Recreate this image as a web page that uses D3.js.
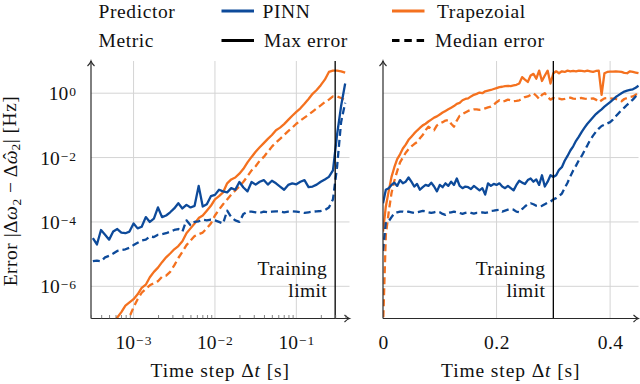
<!DOCTYPE html>
<html><head><meta charset="utf-8">
<script src="https://cdn.jsdelivr.net/npm/d3@7"></script>
<style>
body{margin:0;background:#fff}
svg{display:block}
svg text{font-family:"Liberation Serif","Times New Roman",serif !important;fill:#111}
</style>
</head><body>
<svg id="c" width="640" height="384"></svg>
<script>
// ---------- DATA ----------
// Left panel: time steps (s), log-spaced
const dtLeft = [3.162e-4,3.548e-4,3.981e-4,4.467e-4,5.012e-4,5.623e-4,6.310e-4,7.079e-4,7.943e-4,8.913e-4,
 1.000e-3,1.122e-3,1.259e-3,1.413e-3,1.585e-3,1.778e-3,1.995e-3,2.239e-3,2.512e-3,2.818e-3,
 3.162e-3,3.548e-3,3.981e-3,4.467e-3,5.012e-3,5.623e-3,6.310e-3,7.079e-3,7.943e-3,8.913e-3,
 1.000e-2,1.122e-2,1.259e-2,1.413e-2,1.585e-2,1.778e-2,1.995e-2,2.239e-2,2.512e-2,2.818e-2,
 3.162e-2,3.548e-2,3.981e-2,4.467e-2,5.012e-2,5.623e-2,6.310e-2,7.079e-2,7.943e-2,8.913e-2,
 0.1000,0.1122,0.1259,0.1413,0.1585,0.1778,0.1995,0.2239,0.2512,0.2818,
 0.3162,0.3548,0.3981];
// log10 of error [Hz]
const pinnMaxLeft = [-4.5,-4.7,-4.25,-4.4,-4.55,-4.3,-4.22,-4.33,-4.35,-4.3,
 -4.05,-4.2,-4.15,-3.85,-4.0,-3.9,-3.55,-3.85,-3.8,-3.7,
 -3.58,-3.42,-3.58,-3.47,-3.55,-3.5,-2.88,-3.52,-3.45,-3.2,
 -3.16,-3.0,-3.05,-3.08,-2.95,-3.0,-2.76,-2.93,-3.05,-2.76,
 -2.84,-2.75,-2.7,-2.84,-2.72,-2.8,-2.9,-3.0,-2.85,-2.8,
 -2.83,-2.75,-2.7,-2.92,-2.9,-2.84,-2.75,-2.68,-2.6,-2.4,
 -1.3,-0.4,0.3];
const pinnMedLeft = [-5.22,-5.2,-5.22,-5.1,-5.05,-4.98,-4.9,-4.87,-4.85,-4.8,
 -4.72,-4.65,-4.58,-4.55,-4.45,-4.47,-4.4,-4.38,-4.35,-4.3,
 -4.25,-4.22,-4.3,-3.95,-4.1,-4.0,-3.98,-3.93,-3.95,-3.93,
 -3.95,-4.0,-4.05,-3.65,-3.85,-3.95,-4.0,-3.75,-3.68,-3.68,
 -3.7,-3.72,-3.68,-3.7,-3.68,-3.67,-3.68,-3.7,-3.68,-3.67,
 -3.68,-3.7,-3.72,-3.7,-3.68,-3.67,-3.66,-3.63,-3.55,-3.3,
 -2.3,-0.9,-0.3];
const trapMaxLeft = [null,null,null,null,null,-7.15,-6.97,-6.8,-6.6,-6.5,
 -6.4,-6.25,-6.05,-5.95,-5.72,-5.55,-5.42,-5.25,-5.1,-4.98,
 -4.85,-4.75,-4.6,-4.35,-4.2,-4.05,-3.88,-3.8,-3.65,-3.5,
 -3.3,-3.2,-3.08,-2.8,-2.68,-2.62,-2.5,-2.35,-2.15,-1.98,
 -1.82,-1.68,-1.55,-1.42,-1.3,-1.15,-1.07,-0.96,-0.83,-0.7,
 -0.58,-0.47,-0.33,-0.18,-0.02,0.1,0.25,0.42,0.66,0.7,
 0.7,0.68,0.64];
const trapMedLeft = [null,null,null,null,null,null,null,null,-7.2,-6.95,
 -6.65,-6.4,-6.2,-6.08,-5.97,-5.9,-5.84,-5.7,-5.67,-5.55,
 -5.35,-5.12,-4.93,-4.72,-4.58,-4.44,-4.38,-4.33,-4.2,-4.05,
 -3.8,-3.62,-3.45,-3.3,-3.15,-3.02,-2.9,-2.75,-2.58,-2.4,
 -2.27,-2.1,-1.98,-1.82,-1.66,-1.53,-1.42,-1.3,-1.18,-1.07,
 -0.95,-0.85,-0.76,-0.67,-0.57,-0.47,-0.38,-0.28,-0.2,-0.1,
 -0.1,-0.15,-0.22];

// Right panel: time steps (s), linear
const dtRight = [0,0.005,0.01,0.015,0.02,0.025,0.03,0.035,0.04,0.045,
 0.05,0.055,0.06,0.065,0.07,0.075,0.08,0.085,0.09,0.095,
 0.1,0.105,0.11,0.115,0.12,0.125,0.13,0.135,0.14,0.145,
 0.15,0.155,0.16,0.165,0.17,0.175,0.18,0.185,0.19,0.195,
 0.2,0.205,0.21,0.215,0.22,0.225,0.23,0.235,0.24,0.245,
 0.25,0.255,0.26,0.265,0.27,0.275,0.28,0.285,0.29,0.295,
 0.3,0.305,0.31,0.315,0.32,0.325,0.33,0.335,0.34,0.345,
 0.35,0.355,0.36,0.365,0.37,0.375,0.38,0.385,0.39,0.395,
 0.4,0.405,0.41,0.415,0.42,0.425,0.43,0.435,0.44,0.445,0.45];
const pinnMaxRight = [-3.42,-3.0,-2.95,-2.85,-2.78,-2.88,-2.7,-2.8,-2.75,-2.62,
 -2.75,-2.9,-2.82,-3.0,-2.92,-2.85,-2.88,-2.78,-2.9,-3.05,
 -2.85,-2.92,-2.8,-2.88,-2.75,-2.85,-2.65,-2.88,-2.95,-2.9,
 -2.92,-2.98,-2.88,-2.95,-3.02,-2.95,-3.15,-2.8,-2.88,-2.82,
 -2.85,-2.8,-2.9,-2.95,-2.88,-2.95,-3.02,-2.85,-2.72,-2.78,
 -2.82,-2.7,-2.65,-2.75,-2.68,-2.85,-2.55,-2.9,-2.75,-2.55,
 -2.6,-2.55,-2.38,-2.3,-2.1,-1.95,-1.78,-1.65,-1.48,-1.35,
 -1.2,-1.07,-0.95,-0.85,-0.75,-0.65,-0.57,-0.5,-0.42,-0.35,
 -0.28,-0.2,-0.12,-0.06,0.0,0.05,0.08,0.1,0.12,0.17,0.23];
const pinnMedRight = [-4.9,-4.0,-3.98,-3.85,-3.73,-3.7,-3.68,-3.68,-3.7,-3.68,
 -3.7,-3.72,-3.7,-3.68,-3.66,-3.67,-3.7,-3.72,-3.7,-3.68,
 -3.7,-3.75,-3.78,-3.72,-3.7,-3.68,-3.7,-3.72,-3.75,-3.72,
 -3.7,-3.72,-3.74,-3.72,-3.72,-3.7,-3.72,-3.7,-3.66,-3.65,
 -3.63,-3.62,-3.68,-3.65,-3.62,-3.6,-3.62,-3.68,-3.7,-3.6,
 -3.52,-3.45,-3.42,-3.45,-3.5,-3.52,-3.5,-3.45,-3.4,-3.37,
 -3.3,-3.26,-3.2,-3.12,-2.95,-2.78,-2.58,-2.4,-2.25,-2.08,
 -1.95,-1.78,-1.62,-1.45,-1.32,-1.2,-1.1,-1.02,-0.98,-0.94,
 -0.9,-0.82,-0.72,-0.62,-0.52,-0.45,-0.36,-0.28,-0.2,-0.1,0.0];
const trapMaxRight = [-4.3,-3.52,-3.05,-2.6,-2.3,-2.05,-1.9,-1.72,-1.6,-1.45,
 -1.35,-1.25,-1.16,-1.08,-1.0,-0.95,-0.88,-0.82,-0.76,-0.72,
 -0.66,-0.6,-0.55,-0.5,-0.45,-0.4,-0.33,-0.3,-0.22,-0.18,
 -0.16,-0.1,-0.05,-0.02,0.02,0.0,0.06,0.08,0.1,0.13,
 0.16,0.19,0.2,0.22,0.23,0.22,0.24,0.26,0.3,0.5,
 0.42,0.35,0.55,0.6,0.45,0.7,0.38,0.55,0.7,0.3,
 0.62,0.68,0.62,0.68,0.66,0.7,0.68,0.69,0.68,0.7,
 0.69,0.68,0.7,0.68,0.66,0.69,0.7,-0.05,0.62,0.66,
 0.67,0.67,0.68,0.67,0.66,0.63,0.62,0.68,0.66,0.64,0.62];
const trapMedRight = [-7.3,-4.4,-3.7,-3.1,-2.72,-2.42,-2.15,-2.0,-1.85,-1.74,
 -1.65,-1.58,-1.52,-1.4,-1.3,-1.15,-1.04,-1.1,-1.15,-1.0,
 -0.94,-0.9,-0.85,-0.83,-0.95,-1.04,-0.85,-0.7,-0.65,-0.6,
 -0.55,-0.52,-0.5,-0.5,-0.52,-0.5,-0.47,-0.44,-0.42,-0.36,
 -0.28,-0.22,-0.26,-0.24,-0.2,-0.22,-0.25,-0.24,-0.22,-0.18,
 -0.12,-0.1,-0.05,0.0,-0.08,-0.18,-0.05,0.0,-0.12,-0.2,
 -0.15,-0.18,-0.17,-0.19,-0.18,-0.16,-0.14,-0.17,-0.18,-0.16,
 -0.15,-0.17,-0.18,-0.17,-0.16,-0.2,-0.28,-0.22,-0.16,-0.15,
 -0.16,-0.17,-0.18,-0.22,-0.25,-0.18,-0.15,-0.12,-0.1,-0.05,0.0];

const yTickValues = [1, 1e-2, 1e-4, 1e-6];
const xTickLeft = [1e-3, 1e-2, 1e-1];
const xTickRight = [0, 0.2, 0.4];
const xTickRightLabels = ["0", "0.2", "0.4"];
const trainingLimit = 0.3;
const seriesNames = ["PINN", "Trapezoial"];
const metricNames = ["Max error", "Median error"];

// ---------- STYLE ----------
const FONT = '"Liberation Serif","Times New Roman",serif';
const FS = "19.5px", SUP = "13.5px";
const BLUE = "#0d4a9a", ORANGE = "#f4711f", GRID = "#d4d4d4", AXIS = "#2a2a2a";
const DASH = "7,4";
const LW = 2.3;

const svg = d3.select("#c");
svg.append("rect").attr("width",640).attr("height",384).attr("fill","#fff");

const yTop = 61, yBot = 318.5;
const xL = d3.scaleLog().domain([3e-4, 0.45]).range([91, 349.5]);
const xR = d3.scaleLinear().domain([0, 0.45]).range([383, 638.5]);
const yS = d3.scaleLog().domain([1e-7, 10]).range([yBot, yTop]);

const defs = svg.append("defs");
[["clipL", xL], ["clipR", xR]].forEach(([id, xs]) => {
  defs.append("clipPath").attr("id", id).append("rect")
    .attr("x", xs.range()[0]).attr("y", yTop - 2)
    .attr("width", xs.range()[1] - xs.range()[0] + 2).attr("height", yBot - yTop + 2);
});

function styleText(sel, size, ls) {
  return sel.style("font-family", FONT).style("font-size", size).attr("letter-spacing", ls || "0.5px");
}
function expLabel(text, d) {
  const e = Math.round(Math.log10(d));
  text.text(null);
  text.append("tspan").text("10");
  text.append("tspan").attr("dx", "1").attr("dy", "-0.3em").style("font-size", SUP)
    .attr("letter-spacing", "1px")
    .text(e < 0 ? "\u2212" + (-e) : String(e));
}

function panel(xs, clipId, data, xGridVals) {
  const g = svg.append("g");
  const [x0, x1] = xs.range();
  g.selectAll(".hg").data(yTickValues).join("line")
    .attr("x1", x0).attr("x2", x1).attr("y1", d => yS(d)).attr("y2", d => yS(d))
    .attr("stroke", GRID).attr("stroke-width", 1);
  g.selectAll(".vg").data(xGridVals).join("line")
    .attr("x1", d => xs(d)).attr("x2", d => xs(d)).attr("y1", yTop).attr("y2", yBot)
    .attr("stroke", GRID).attr("stroke-width", 1);
  const cg = g.append("g").attr("clip-path", `url(#${clipId})`);
  data.forEach(s => {
    const line = d3.line().defined(d => d[1] != null)
      .x(d => xs(d[0])).y(d => yS(Math.pow(10, d[1])));
    cg.append("path").datum(s.x.map((v, i) => [v, s.y[i]]))
      .attr("d", line).attr("fill", "none").attr("stroke", s.color)
      .attr("stroke-width", LW).attr("stroke-linejoin", "round")
      .attr("stroke-dasharray", s.dash ? DASH : null);
  });
  g.append("line").attr("x1", xs(trainingLimit)).attr("x2", xs(trainingLimit))
    .attr("y1", yTop).attr("y2", yBot).attr("stroke", "#000").attr("stroke-width", 1.3);
  const tx = xs(trainingLimit) - 8;
  styleText(g.append("text").attr("x", tx).attr("y", 275).attr("text-anchor", "end"), FS, "0.4px").text("Training");
  styleText(g.append("text").attr("x", tx).attr("y", 297).attr("text-anchor", "end"), FS, "0.4px").text("limit");
  g.append("line").attr("x1", x0).attr("x2", x0).attr("y1", yBot).attr("y2", yTop)
    .attr("stroke", AXIS).attr("stroke-width", 1.2);
  g.append("line").attr("x1", x0).attr("x2", x1).attr("y1", yBot).attr("y2", yBot)
    .attr("stroke", AXIS).attr("stroke-width", 1.2);
  g.append("path").attr("d", `M${x0-3.5},${yTop+5} Q${x0-0.6},${yTop+2} ${x0},${yTop} Q${x0+0.6},${yTop+2} ${x0+3.5},${yTop+5}`)
    .attr("fill", "none").attr("stroke", AXIS).attr("stroke-width", 1.1);
  g.append("path").attr("d", `M${x1-5},${yBot-3.5} Q${x1-2},${yBot-0.6} ${x1},${yBot} Q${x1-2},${yBot+0.6} ${x1-5},${yBot+3.5}`)
    .attr("fill", "none").attr("stroke", AXIS).attr("stroke-width", 1.1);
  return g;
}

panel(xL, "clipL", [
  {x: dtLeft, y: trapMaxLeft, color: ORANGE, dash: false},
  {x: dtLeft, y: trapMedLeft, color: ORANGE, dash: true},
  {x: dtLeft, y: pinnMaxLeft, color: BLUE, dash: false},
  {x: dtLeft, y: pinnMedLeft, color: BLUE, dash: true}
], xTickLeft);

panel(xR, "clipR", [
  {x: dtRight, y: trapMaxRight, color: ORANGE, dash: false},
  {x: dtRight, y: trapMedRight, color: ORANGE, dash: true},
  {x: dtRight, y: pinnMaxRight, color: BLUE, dash: false},
  {x: dtRight, y: pinnMedRight, color: BLUE, dash: true}
], xTickRight.filter(d => d > 0));

// minor ticks on left log x axis
const minor = xL.ticks().filter(d => Math.abs(Math.log10(d) - Math.round(Math.log10(d))) > 1e-6);
const gm = svg.append("g").attr("transform", `translate(0,${yBot})`)
  .call(d3.axisBottom(xL).tickValues(minor).tickSize(-3.5).tickFormat(""));
gm.select(".domain").remove();
gm.selectAll(".tick line").attr("stroke", "#666").attr("stroke-width", 0.8);

// y tick labels (left)
const gy = svg.append("g").attr("transform", `translate(${xL.range()[0]},0)`)
  .call(d3.axisLeft(yS).tickValues(yTickValues).tickSize(0).tickPadding(14));
gy.select(".domain").remove();
gy.selectAll(".tick text").call(s => styleText(s, FS, "0px"))
  .attr("dy", "0.34em").each(function(d) { expLabel(d3.select(this), d); });

// x tick labels (left)
const gx = svg.append("g").attr("transform", `translate(0,${yBot})`)
  .call(d3.axisBottom(xL).tickValues(xTickLeft).tickSize(0).tickPadding(30.5));
gx.select(".domain").remove();
gx.selectAll(".tick text").call(s => styleText(s, FS, "0px"))
  .attr("dy", "0").each(function(d) { expLabel(d3.select(this), d); });

// x tick labels (right)
const gxr = svg.append("g").attr("transform", `translate(0,${yBot})`)
  .call(d3.axisBottom(xR).tickValues(xTickRight).tickSize(0).tickPadding(30.5)
    .tickFormat((d, i) => xTickRightLabels[i]));
gxr.select(".domain").remove();
gxr.selectAll(".tick text").call(s => styleText(s, FS, "0.5px")).attr("dy", "0");

// axis titles
function xTitle(cx) {
  const t = styleText(svg.append("text").attr("x", cx).attr("y", 377).attr("text-anchor", "middle"), FS, "0.9px");
  t.append("tspan").text("Time step \u0394");
  t.append("tspan").attr("font-style", "italic").text("t");
  t.append("tspan").text(" [s]");
}
xTitle((xL.range()[0] + xL.range()[1]) / 2);
xTitle((xR.range()[0] + xR.range()[1]) / 2);

const yt = styleText(svg.append("text").attr("transform", "translate(16.5,191) rotate(-90)")
  .attr("text-anchor", "middle"), FS, "0.5px");
yt.append("tspan").text("Error |\u0394");
yt.append("tspan").attr("font-style", "italic").text("\u03c9");
yt.append("tspan").attr("dy", 4).style("font-size", "13.5px").text("2");
yt.append("tspan").attr("dy", -4).text(" \u2212 \u0394");
yt.append("tspan").attr("font-style", "italic").text("\u03c9");
yt.append("tspan").attr("dx", "-0.5em").attr("dy", "-0.05em").attr("letter-spacing", "0px").text("\u02c6");
yt.append("tspan").attr("dx", "0.2em").attr("dy", "4.05").style("font-size", "13.5px").text("2");
yt.append("tspan").attr("dy", -4).text("| [Hz]");

// legend
const lg = svg.append("g");
const legText = (x, y, s) => styleText(lg.append("text").attr("x", x).attr("y", y), FS, "0.6px").text(s);
const legLine = (x, y, color, dash) => lg.append("line").attr("x1", x).attr("x2", x + 32.5)
  .attr("y1", y).attr("y2", y).attr("stroke", color).attr("stroke-width", 2.8)
  .attr("stroke-dasharray", dash ? "7.5,4.8" : null);
legText(98.5, 17.5, "Predictor");
legLine(221.5, 11, BLUE, false); legText(262.5, 17.5, seriesNames[0]);
legLine(392, 11, ORANGE, false); legText(437, 17.5, seriesNames[1]);
legText(98.5, 46.5, "Metric");
legLine(221.5, 40.5, "#000", false); legText(264, 46.5, metricNames[0]);
legLine(392, 40.5, "#000", true); legText(435, 46.5, metricNames[1]);
</script>
</body></html>
